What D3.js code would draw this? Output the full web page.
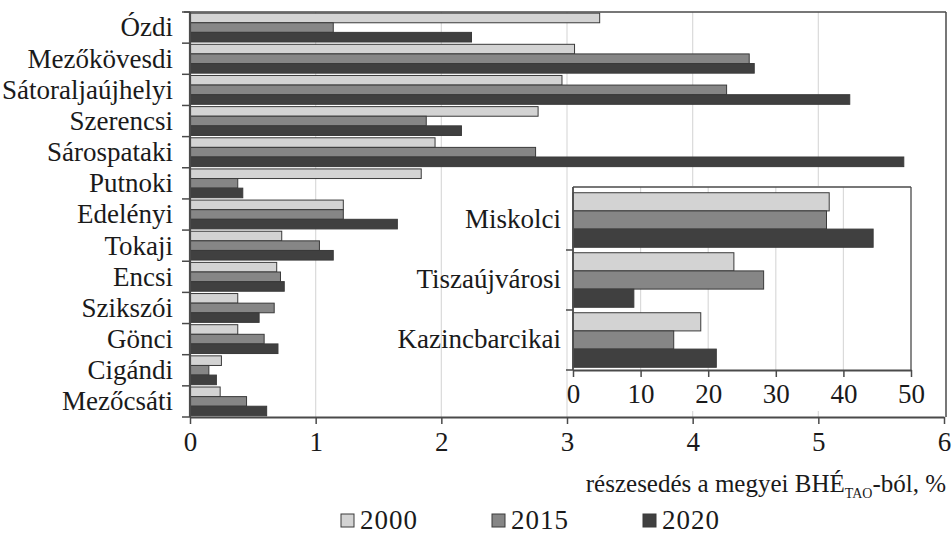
<!DOCTYPE html>
<html><head><meta charset="utf-8">
<script src="https://cdn.jsdelivr.net/npm/d3@7"></script>
</head>
<body style="margin:0">
<svg id="c" width="952" height="535"></svg>
<script>
// ---- data ----
const years = ["2000","2015","2020"];
const districts = ["Ózdi","Mezőkövesdi","Sátoraljaújhelyi","Szerencsi","Sárospataki","Putnoki","Edelényi","Tokaji","Encsi","Szikszói","Gönci","Cigándi","Mezőcsáti"];
const v2000 = [3.26,3.06,2.96,2.77,1.95,1.84,1.22,0.73,0.69,0.38,0.38,0.25,0.24];
const v2015 = [1.14,4.45,4.27,1.88,2.75,0.38,1.22,1.03,0.72,0.67,0.59,0.15,0.45];
const v2020 = [2.24,4.49,5.25,2.16,5.68,0.42,1.65,1.14,0.75,0.55,0.70,0.21,0.61];
const insetDistricts = ["Miskolci","Tiszaújvárosi","Kazincbarcikai"];
const i2000 = [37.9,23.8,18.9];
const i2015 = [37.5,28.2,14.9];
const i2020 = [44.4,9.0,21.2];
const mainTicks = [0,1,2,3,4,5,6];
const insetTicks = [0,10,20,30,40,50];
const xTitle = "részesedés a megyei BHÉ";
const xTitleSub = "TAO";
const xTitleEnd = "-ból, %";

const colors = {"2000":"#d3d3d3","2015":"#868686","2020":"#404040"};
const strokeC = "#3a3a3a";
const gridC = "#dadada";
const axisC = "#4a4a4a";
const FS = 27;
function serifText(sel){ sel.style("font-family", d => '"Liberation Serif"').attr("fill","#1a1a1a"); }

const svg = d3.select("#c").style("font-family",'"Liberation Serif"');

// ---- main chart ----
const L=190, R=946, T=12, B=417;
const x = d3.scaleLinear().domain([0,6]).range([L, 944]);
const y = d3.scaleBand().domain(districts).range([T,B]);
const yy = d3.scaleBand().domain(years).range([0, y.bandwidth()]).paddingOuter(0.12);

const mainSeries = {"2000":v2000,"2015":v2015,"2020":v2020};

svg.append("g").selectAll("line").data(mainTicks.filter(d=>d>0&&d<6)).join("line")
  .attr("x1",d=>x(d)).attr("x2",d=>x(d)).attr("y1",T).attr("y2",B)
  .attr("stroke",gridC).attr("stroke-width",1.2);

const rows = districts.map((d,i)=>({d, vals: years.map(yr=>({yr, v: mainSeries[yr][i]}))}));
svg.append("g").selectAll("g").data(rows).join("g")
  .attr("transform",r=>`translate(0,${y(r.d)})`)
  .selectAll("rect").data(r=>r.vals).join("rect")
  .attr("x",x(0)).attr("y",d=>yy(d.yr)).attr("height",yy.bandwidth())
  .attr("width",d=>x(d.v)-x(0))
  .attr("fill",d=>colors[d.yr]).attr("stroke",strokeC).attr("stroke-width",1);

svg.append("line").attr("x1",L-6).attr("x2",R).attr("y1",T).attr("y2",T).attr("stroke",axisC).attr("stroke-width",1.5);
svg.append("line").attr("x1",R).attr("x2",R).attr("y1",T).attr("y2",B).attr("stroke",axisC).attr("stroke-width",1.5);

const xAx = svg.append("g").attr("transform",`translate(0,${B})`)
  .call(d3.axisBottom(x).tickValues(mainTicks).tickFormat(d3.format("d")).tickSize(7).tickPadding(8).tickSizeOuter(0));
xAx.attr("font-family",null).attr("font-size",null);
xAx.select(".domain").attr("stroke",axisC).attr("stroke-width",2);
xAx.selectAll(".tick line").attr("stroke",axisC).attr("stroke-width",1.5);
xAx.selectAll("text").attr("font-size",FS).call(serifText);

svg.append("line").attr("x1",L).attr("x2",L).attr("y1",T).attr("y2",B).attr("stroke",axisC).attr("stroke-width",2.2);
const bounds = districts.map(d=>y(d)).concat([B]);
svg.append("g").selectAll("line").data(bounds).join("line")
  .attr("x1",L-8).attr("x2",L).attr("y1",d=>d).attr("y2",d=>d)
  .attr("stroke",axisC).attr("stroke-width",1.5);
svg.append("g").selectAll("text").data(districts).join("text")
  .attr("x",173).attr("y",d=>y(d)+y.bandwidth()/2).attr("dy","0.33em")
  .attr("text-anchor","end").attr("font-size",FS)
  .call(serifText).text(d=>d);

// ---- inset ----
const IL=573, IR=911, IT=187, IB=370;
svg.append("rect").attr("x",569).attr("y",186).attr("width",945-569).attr("height",411-186).attr("fill","#fff");
const xi = d3.scaleLinear().domain([0,50]).range([IL,IR]);
const yi = d3.scaleBand().domain(insetDistricts).range([190,IB]);
const yyi = d3.scaleBand().domain(years).range([0, yi.bandwidth()]).paddingOuter(0.15);
const insetSeries = {"2000":i2000,"2015":i2015,"2020":i2020};

svg.append("g").selectAll("line").data(insetTicks.filter(d=>d>0&&d<50)).join("line")
  .attr("x1",d=>xi(d)).attr("x2",d=>xi(d)).attr("y1",IT).attr("y2",IB)
  .attr("stroke",gridC).attr("stroke-width",1.2);

const irows = insetDistricts.map((d,i)=>({d, vals: years.map(yr=>({yr, v: insetSeries[yr][i]}))}));
svg.append("g").selectAll("g").data(irows).join("g")
  .attr("transform",r=>`translate(0,${yi(r.d)})`)
  .selectAll("rect").data(r=>r.vals).join("rect")
  .attr("x",xi(0)).attr("y",d=>yyi(d.yr)).attr("height",yyi.bandwidth())
  .attr("width",d=>xi(d.v)-xi(0))
  .attr("fill",d=>colors[d.yr]).attr("stroke",strokeC).attr("stroke-width",1);

svg.append("line").attr("x1",IL).attr("x2",IR).attr("y1",IT).attr("y2",IT).attr("stroke",axisC).attr("stroke-width",1.3);
svg.append("line").attr("x1",IR).attr("x2",IR).attr("y1",IT).attr("y2",IB).attr("stroke",axisC).attr("stroke-width",1.3);

const xiAx = svg.append("g").attr("transform",`translate(0,${IB})`)
  .call(d3.axisBottom(xi).tickValues(insetTicks).tickFormat(d3.format("d")).tickSize(7).tickPadding(7).tickSizeOuter(0));
xiAx.attr("font-family",null).attr("font-size",null);
xiAx.select(".domain").attr("stroke",axisC).attr("stroke-width",1.8);
xiAx.selectAll(".tick line").attr("stroke",axisC).attr("stroke-width",1.5);
xiAx.selectAll("text").attr("font-size",FS).call(serifText);

svg.append("line").attr("x1",IL).attr("x2",IL).attr("y1",IT).attr("y2",IB).attr("stroke",axisC).attr("stroke-width",1.8);
const ibounds = insetDistricts.slice(1).map(d=>yi(d)).concat([IB]);
svg.append("g").selectAll("line").data(ibounds).join("line")
  .attr("x1",IL-7).attr("x2",IL).attr("y1",d=>d).attr("y2",d=>d)
  .attr("stroke",axisC).attr("stroke-width",1.5);
svg.append("g").selectAll("text").data(insetDistricts).join("text")
  .attr("x",561).attr("y",d=>yi(d)+yi.bandwidth()/2).attr("dy","0.3em")
  .attr("text-anchor","end").attr("font-size",FS)
  .call(serifText).text(d=>d);

// ---- x title ----
const tt = svg.append("text").attr("x",946).attr("y",492).attr("text-anchor","end")
  .attr("font-size",25).call(serifText);
tt.append("tspan").text(xTitle);
tt.append("tspan").attr("font-size",14).attr("dy",6).text(xTitleSub);
tt.append("tspan").attr("dy",-6).text(xTitleEnd);

// ---- legend ----
const lg = svg.append("g").selectAll("g").data(years).join("g")
  .attr("transform",(d,i)=>`translate(${341+i*151},514)`);
lg.append("rect").attr("width",13).attr("height",13).attr("fill",d=>colors[d]).attr("stroke",strokeC).attr("stroke-width",1);
lg.append("text").attr("x",19).attr("y",15).attr("font-size",FS).attr("letter-spacing",1).call(serifText).text(d=>d);
</script>
</body></html>
